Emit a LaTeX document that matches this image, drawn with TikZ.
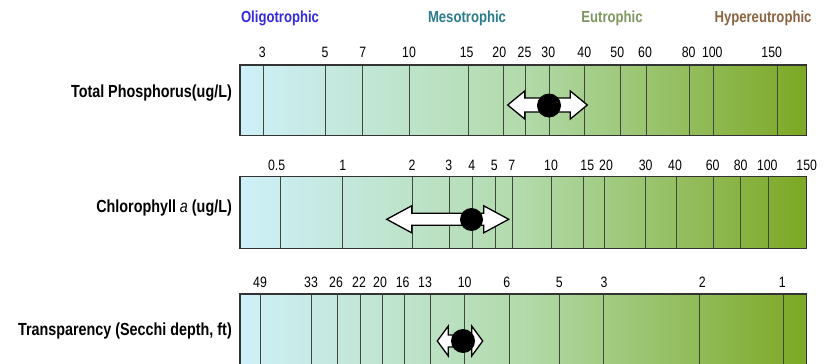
\documentclass[tikz,border=0pt]{standalone}
\usepackage{fontspec}
\newfontfamily\narrowsf[FakeStretch=0.82]{Liberation Sans}
\usetikzlibrary{positioning}

\definecolor{oligo}{RGB}{52,40,224}
\definecolor{meso}{RGB}{40,124,140}
\definecolor{eutro}{RGB}{125,150,95}
\definecolor{hyper}{RGB}{138,100,64}
\definecolor{barleft}{RGB}{206,240,249}
\definecolor{barmid}{RGB}{178,218,170}
\definecolor{barright}{RGB}{124,168,36}
\definecolor{tickline}{RGB}{60,72,58}

\tikzset{
    scalebar/.style={rectangle, minimum width=566pt, inner sep=0pt, anchor=north west, left color=barleft, right color=barright, middle color=barmid},
    barframe/.style={draw=black!80, line width=1.2pt},
    bartick/.style={draw=tickline, line width=0.9pt},
    ticknum/.style={font=\narrowsf\fontsize{15}{17}\selectfont, anchor=base, inner sep=0pt},
    rowname/.style={font=\narrowsf\bfseries\fontsize{17.5}{20}\selectfont, anchor=base east, inner sep=0pt},
    status/.style={font=\narrowsf\bfseries\fontsize{16}{18}\selectfont, anchor=base, inner sep=0pt},
    rangearrow/.style={draw=black, fill=white, line width=1.3pt, line join=miter},
    meandot/.style={circle, fill=black, inner sep=0pt, minimum size=#1},
}

% left x, right x, y, head length, head half height, shaft half height
\newcommand{\fatarrow}[6]{%
    \draw[rangearrow] (#1,#3) -- (#1+#4,#3-#5) -- (#1+#4,#3-#6) -- (#2-#4,#3-#6) -- (#2-#4,#3-#5)
        -- (#2,#3) -- (#2-#4,#3+#5) -- (#2-#4,#3+#6) -- (#1+#4,#3+#6) -- (#1+#4,#3+#5) -- cycle;}

\begin{document}
\begin{tikzpicture}[x=1pt, y=-1pt]
    \clip (0,0) rectangle (830,364);

    %% trophic states
    \draw
    (280,22)node[status, text=oligo](oligo){Oligotrophic}
    (467,22)node[status, text=meso](meso){Mesotrophic}
    (612,22)node[status, text=eutro](eutro){Eutrophic}
    (763,22)node[status, text=hyper](hyper){Hypereutrophic}
    ;

    %% scales
    \draw
    (240,65)node[scalebar, minimum height=70pt](tp){}
    (240,176.5)node[scalebar, minimum height=71.5pt](chla){}
    (240,294)node[scalebar, minimum height=80pt](sd){}
    ;

    % total phosphorus
    \foreach \x/\lx/\v in {263.3/262.3/3, 325.7/325/5, 362.7/362.7/7, 409/409/10, 468.7/466.7/15, 503.3/499.3/20,
        525.7/524.5/25, 549/548.3/30, 584.3/584.3/40, 620/617.3/50, 646/645/60, 689.3/688.7/80, 713/712.3/100, 777/771.7/150}{
        \draw[bartick] (\x,0 |- tp.north) -- (\x,0 |- tp.south);
        \node[ticknum] at (\lx,57) {\v};
    }

    % chlorophyll a
    \foreach \x/\lx/\v in {280.7/276.7/0.5, 342.7/342.7/1, 412/412/2, 449.3/448.7/3, 472.3/471.7/4, 495.7/494.3/5, 512/511.7/7,
        551/551/10, 583.3/587.3/15, 604/606/20, 645.7/645.7/30, 676.7/675/40, 713/712.7/60, 740.7/740.7/80, 768/767.3/100}{
        \draw[bartick] (\x,0 |- chla.north) -- (\x,0 |- chla.south);
        \node[ticknum] at (\lx,170) {\v};
    }
    \node[ticknum] at (806.7,170) {150};

    % secchi depth
    \foreach \x/\lx/\v in {260.7/260/49, 311/311/33, 337.3/336/26, 360/359/22, 382/380/20, 404/402.7/16, 430.3/425/13,
        464.7/464.7/10, 509.3/506.7/6, 559.3/559.3/5, 603.7/604/3, 699/702.3/2, 783.3/782.3/1}{
        \draw[bartick] (\x,0 |- sd.north) -- (\x,0 |- sd.south);
        \node[ticknum] at (\lx,287.5) {\v};
    }

    \draw[barframe] (tp.north west) rectangle (tp.south east);
    \draw[barframe] (chla.north west) rectangle (chla.south east);
    \draw[barframe] (sd.north west) rectangle (sd.south east);

    %% row names
    \node[rowname](tpname) at (232,97.5){Total Phosphorus(ug/L)};
    \node[rowname](chlaname) at (232,212.7){Chlorophyll {\mdseries\itshape a} (ug/L)};
    \node[rowname](sdname) at (232,335.3){Transparency (Secchi depth, ft)};

    %% ranges
    \fatarrow{507.7}{587.3}{105}{17}{14}{7}
    \node[meandot=24pt](tpdot) at (549,105.5){};
    \fatarrow{386.7}{508.7}{219.3}{25}{13.5}{6}
    \node[meandot=23pt](chladot) at (471.5,219.5){};
    \fatarrow{437.3}{482.7}{341}{11}{15}{6}
    \node[meandot=24pt](sddot) at (463,341){};
\end{tikzpicture}
\end{document}
